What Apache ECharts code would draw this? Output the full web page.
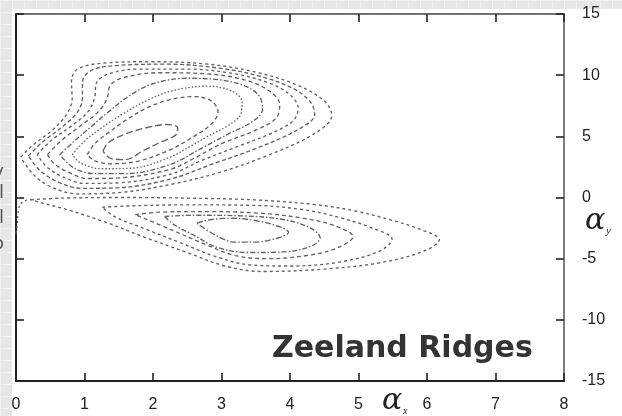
<!DOCTYPE html>
<html><head><meta charset="utf-8">
<script src="https://cdn.jsdelivr.net/npm/echarts@6/dist/echarts.min.js"></script>
<style>html,body{margin:0;padding:0;background:#fff}#c{width:622px;height:416px}</style>
</head><body><div id="c"></div>
<script>
// ---- axis definitions ----
const xMin = 0, xMax = 8, xStep = 1;
const yMin = -15, yMax = 15, yStep = 5;
const titleText = 'Zeeland Ridges';
const sideLetters = ['y', 'l', 'l', 'o'];

// ---- upper ridge contours (x, y) ----
const upperC1 = [[1.27,3.8],[1.35,4.5],[1.6,5.2],[1.9,5.7],[2.2,5.97],[2.36,5.7],[2.33,5.1],[2.1,4.5],[1.85,3.8],[1.6,3.1],[1.38,3.2],[1.27,3.8]];
const upperC2 = [[1.04,3.5],[1.15,4.4],[1.35,5.3],[1.6,6.3],[1.9,7.3],[2.25,8.0],[2.6,8.25],[2.85,7.9],[2.95,7.0],[2.85,6.0],[2.6,5.0],[2.25,3.9],[1.8,3.0],[1.4,2.75],[1.15,3.0],[1.04,3.5]];
const upperC3 = [[0.82,3.5],[1.0,4.6],[1.25,5.7],[1.55,6.8],[1.9,7.9],[2.3,8.75],[2.8,9.1],[3.15,8.7],[3.3,7.8],[3.28,6.8],[3.1,5.9],[2.8,5.0],[2.55,4.2],[2.25,3.3],[1.7,2.4],[1.25,2.35],[0.95,2.8],[0.82,3.5]];
const upperC4 = [[0.64,3.5],[0.85,4.6],[1.1,5.8],[1.35,7.0],[1.65,8.3],[2.0,9.3],[2.5,9.75],[3.0,9.6],[3.35,9.1],[3.55,8.3],[3.6,7.2],[3.45,6.2],[3.1,5.2],[2.7,4.0],[2.25,2.7],[1.6,1.95],[1.15,1.95],[0.85,2.4],[0.64,3.5]];
const upperC5 = [[0.46,3.5],[0.65,4.6],[0.95,5.9],[1.2,7.0],[1.33,8.1],[1.38,9.2],[1.6,9.85],[2.1,10.2],[2.8,10.1],[3.35,9.6],[3.7,8.7],[3.85,7.6],[3.8,6.5],[3.5,5.5],[3.0,4.4],[2.6,3.2],[2.25,2.3],[1.5,1.6],[1.05,1.55],[0.75,2.1],[0.55,2.8],[0.46,3.5]];
const upperC6 = [[0.31,3.5],[0.5,4.6],[0.82,5.9],[1.05,7.0],[1.15,8.2],[1.17,9.3],[1.35,10.1],[1.8,10.5],[2.5,10.5],[3.2,10.1],[3.7,9.35],[4.0,8.4],[4.12,7.3],[4.05,6.3],[3.75,5.3],[3.25,4.2],[2.7,3.0],[2.25,1.9],[1.5,1.2],[1.0,1.15],[0.68,1.7],[0.45,2.5],[0.31,3.5]];
const upperC7 = [[0.18,3.4],[0.38,4.5],[0.68,5.8],[0.9,7.0],[0.97,8.2],[0.97,9.4],[1.1,10.4],[1.5,10.8],[2.2,10.9],[3.0,10.55],[3.6,9.85],[4.05,8.9],[4.3,7.8],[4.36,6.8],[4.1,5.5],[3.5,4.0],[2.9,2.8],[2.25,1.5],[1.5,0.8],[0.95,0.75],[0.6,1.3],[0.35,2.2],[0.18,3.4]];
const upperC8 = [[0.07,3.3],[0.25,4.3],[0.55,5.6],[0.75,6.9],[0.82,8.1],[0.81,9.5],[0.9,10.5],[1.3,11.0],[2.0,11.1],[2.8,10.9],[3.5,10.25],[4.1,9.2],[4.5,7.9],[4.61,6.7],[4.35,5.2],[3.7,3.5],[3.0,2.1],[2.25,1.06],[1.5,0.4],[0.9,0.3],[0.5,0.9],[0.25,1.9],[0.07,3.3]];

// ---- lower ridge contours ----
const lowerL1 = [[2.64,-2.1],[2.85,-1.8],[3.17,-1.7],[3.56,-1.95],[3.85,-2.4],[3.98,-2.85],[3.8,-3.35],[3.45,-3.65],[3.2,-3.65],[2.95,-3.2],[2.64,-2.1]];
const lowerL2 = [[2.17,-1.55],[2.6,-1.45],[3.3,-1.5],[3.9,-1.8],[4.3,-2.5],[4.44,-3.3],[4.3,-4.0],[3.9,-4.45],[3.4,-4.5],[2.95,-4.1],[2.6,-3.1],[2.3,-2.2],[2.17,-1.55]];
const lowerL3 = [[1.74,-1.4],[2.1,-1.2],[2.8,-1.15],[3.6,-1.3],[4.2,-1.7],[4.65,-2.3],[4.92,-3.2],[4.7,-4.1],[4.3,-4.7],[3.7,-5.0],[3.2,-4.75],[2.75,-3.8],[2.25,-2.6],[1.74,-1.4]];
const lowerL4 = [[1.26,-0.8],[1.6,-0.7],[2.5,-0.6],[3.5,-0.65],[4.2,-1.0],[4.7,-1.6],[5.2,-2.5],[5.49,-3.4],[5.3,-4.4],[4.7,-5.3],[4.0,-5.6],[3.4,-5.5],[2.9,-4.8],[2.4,-3.7],[1.9,-2.6],[1.45,-1.6],[1.26,-0.8]];
const lowerL5 = [[0.22,-0.18],[0.7,-0.05],[1.5,0.0],[2.5,-0.05],[3.5,-0.2],[4.4,-0.6],[4.95,-1.1],[5.45,-1.8],[5.9,-2.6],[6.18,-3.45],[5.95,-4.4],[5.3,-5.35],[4.5,-5.85],[3.6,-6.05],[3.05,-5.6],[2.5,-4.5],[1.9,-3.3],[1.3,-2.0],[0.75,-1.0],[0.35,-0.4],[0.22,-0.18]];
const lowerEdge = [[0.0,-2.9],[0.02,-2.2],[0.03,-1.3],[0.06,-0.6],[0.14,-0.25],[0.22,-0.18]];

const contours = [
  {d: upperC1, t: [7,3]},
  {d: upperC2, t: [4,3]},
  {d: upperC3, t: [1.5,2]},
  {d: upperC4, t: [5,2,1.5,2]},
  {d: upperC5, t: [4,3]},
  {d: upperC6, t: [3,3]},
  {d: upperC7, t: [4,2.5]},
  {d: upperC8, t: [3,3]},
  {d: lowerL1, t: [6,2,1.5,2]},
  {d: lowerL2, t: [5,2,1.5,2]},
  {d: lowerL3, t: [4,3]},
  {d: lowerL4, t: [3,3]},
  {d: lowerL5, t: [3,3]},
  {d: lowerEdge, t: [2,3]}
];

// background texture
const tile = document.createElement('canvas');
tile.width = 12; tile.height = 12;
const tc = tile.getContext('2d');
tc.fillStyle = '#e6e6e6'; tc.fillRect(0,0,12,12);
tc.fillStyle = '#f1f1f1'; tc.fillRect(0,0,12,1); tc.fillRect(0,0,1,12);

const chart = echarts.init(document.getElementById('c'), null, {renderer: 'canvas'});
const axisTxt = {color: '#222', fontSize: 16, fontFamily: 'Liberation Sans, Arial, sans-serif'};
const tickStyle = {color: '#222', width: 1.6};
const sideY = [172, 193, 218, 244];
chart.setOption({
  animation: false,
  backgroundColor: {image: tile, repeat: 'repeat'},
  graphic: [
    {type: 'rect', z: -100, shape: {x: 12, y: 9, width: 610, height: 407}, style: {fill: '#fff'}},
    {type: 'text', x: 272, y: 334, z: 100, style: {text: titleText, fill: '#333', font: 'bold 30px "DejaVu Sans", sans-serif'}},
    {type: 'text', x: 382, y: 386, z: 100, style: {text: 'α', fill: '#222', font: 'italic 30px "DejaVu Serif", "Liberation Serif", serif'}},
    {type: 'text', x: 403, y: 406, z: 100, style: {text: 'x', fill: '#222', font: 'italic 10px "Liberation Serif", serif'}},
    {type: 'text', x: 585, y: 206, z: 100, style: {text: 'α', fill: '#222', font: 'italic 30px "DejaVu Serif", "Liberation Serif", serif'}},
    {type: 'text', x: 606, y: 226, z: 100, style: {text: 'y', fill: '#222', font: 'italic 11px "Liberation Serif", serif'}}
  ].concat(sideLetters.map((ch, i) => ({
    type: 'text', x: 4, y: sideY[i], z: 100,
    style: {text: ch, fill: '#555', align: 'right', verticalAlign: 'middle', font: '18px "DejaVu Sans", sans-serif'}
  }))),
  grid: {left: 16, top: 14, right: 58, bottom: 35},
  xAxis: [
    {type: 'value', min: xMin, max: xMax, interval: xStep, position: 'bottom',
     axisLine: {onZero: false, lineStyle: {color: '#222', width: 2}},
     axisTick: {show: true, inside: true, length: 8, lineStyle: tickStyle},
     axisLabel: Object.assign({margin: 16}, axisTxt), splitLine: {show: false}},
    {type: 'value', min: xMin, max: xMax, interval: xStep, position: 'top',
     axisLine: {onZero: false, lineStyle: {color: '#444', width: 1.5}},
     axisTick: {show: true, inside: true, length: 8, lineStyle: tickStyle},
     axisLabel: {show: false}, splitLine: {show: false}}
  ],
  yAxis: [
    {type: 'value', min: yMin, max: yMax, interval: yStep, position: 'right',
     axisLine: {onZero: false, lineStyle: {color: '#555', width: 1.5}},
     axisTick: {show: true, inside: true, length: 8, lineStyle: tickStyle},
     axisLabel: Object.assign({margin: 18, alignMaxLabel: 'top'}, axisTxt), splitLine: {show: false}},
    {type: 'value', min: yMin, max: yMax, interval: yStep, position: 'left',
     axisLine: {onZero: false, lineStyle: {color: '#222', width: 2}},
     axisTick: {show: true, inside: true, length: 8, lineStyle: tickStyle},
     axisLabel: {show: false}, splitLine: {show: false}}
  ],
  series: contours.map(c => ({
    type: 'line', data: c.d, xAxisIndex: 0, yAxisIndex: 0,
    smooth: 0.35, showSymbol: false, symbol: 'none', clip: true,
    lineStyle: {color: '#626262', width: 1.35, type: c.t}
  }))
});
</script>
</body></html>
